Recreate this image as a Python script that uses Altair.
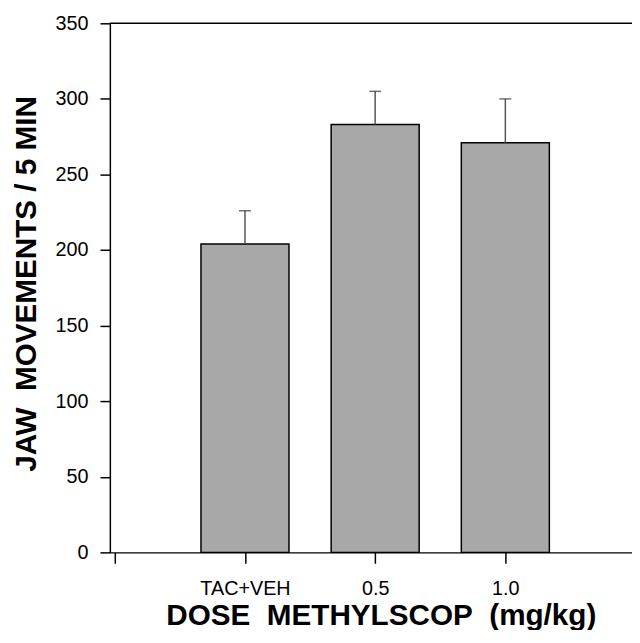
import altair as alt
import pandas as pd

# Data
groups = ["TAC+VEH", "0.5", "1.0"]
positions = [1, 2, 3]
means = [204, 283, 271]
sems = [22, 22, 29]
x_tick_positions = [0, 1, 2, 3]
y_ticks = [0, 50, 100, 150, 200, 250, 300, 350]

df = pd.DataFrame({"group": groups, "pos": positions, "mean": means, "sem": sems})
df["upper"] = df["mean"] + df["sem"]

label_expr = " : ".join(
    [f"datum.value == {p} ? '{g}'" for p, g in zip(positions, groups)]
) + " : ''"

FONT = "Liberation Sans"

xscale = alt.Scale(domain=[0, 3.935], nice=False, zero=False)
yscale = alt.Scale(domain=[0, 350], nice=False)

xaxis = alt.Axis(
    values=x_tick_positions,
    labelExpr=label_expr,
    title="DOSE\u00a0\u00a0METHYLSCOP\u00a0\u00a0(mg/kg)",
    grid=False,
    tickSize=11,
    tickWidth=1.5,
    tickColor="black",
    domainColor="black",
    domainWidth=1.5,
    labelFont=FONT,
    labelFontSize=20,
    labelColor="black",
    labelPadding=16,
    titleFont=FONT,
    titleFontSize=30,
    titleFontWeight="bold",
    titleColor="black",
    titleX=274,
    titleY=73,
    titleAlign="center",
    titleBaseline="alphabetic",
)

yaxis = alt.Axis(
    values=y_ticks,
    title="JAW\u00a0\u00a0MOVEMENTS / 5 MIN",
    grid=False,
    tickSize=10,
    tickWidth=1.5,
    tickColor="black",
    domainColor="black",
    domainWidth=1.5,
    labelFont=FONT,
    labelFontSize=20,
    labelColor="black",
    labelPadding=12,
    titleFont=FONT,
    titleFontSize=30,
    titleFontWeight="bold",
    titleColor="black",
    titleX=-75,
    titleY=263,
    titleAngle=270,
    titleAlign="center",
    titleBaseline="alphabetic",
)

base = alt.Chart(df)

bars = base.mark_bar(size=89, color="#a8a8a8", stroke="black", strokeWidth=1.5).encode(
    x=alt.X("pos:Q", scale=xscale, axis=xaxis),
    y=alt.Y("mean:Q", scale=yscale, axis=yaxis),
)

stems = base.mark_rule(color="#555555", strokeWidth=1.5).encode(
    x="pos:Q", y="mean:Q", y2="upper:Q"
)

caps = base.mark_tick(orient="horizontal", size=12, thickness=1.5, color="#333333").encode(
    x="pos:Q", y="upper:Q"
)

top_line = alt.Chart(pd.DataFrame({"top": [350]})).mark_rule(color="black", strokeWidth=1.5).encode(
    y=alt.Y("top:Q")
)

chart = (
    alt.layer(bars, stems, caps, top_line)
    .properties(
        width=528,
        height=535,
        autosize=alt.AutoSizeParams(type="none"),
        padding={"left": 103, "top": 12, "right": 0, "bottom": 75},
    )
    .configure_view(stroke=None)
)

chart.save("out.html", embed_options={"renderer": "svg", "actions": False})
